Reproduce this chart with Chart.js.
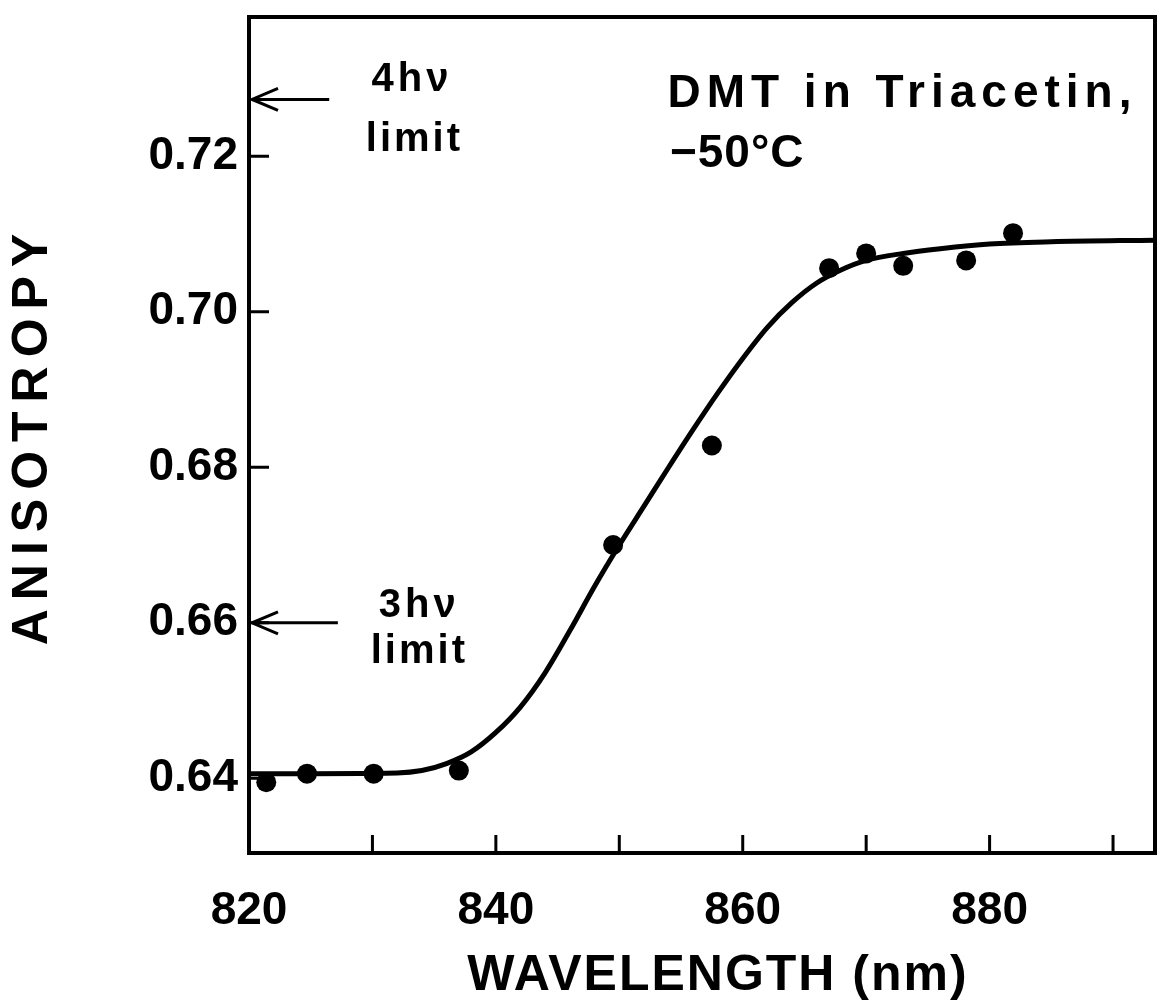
<!DOCTYPE html>
<html>
<head>
<meta charset="utf-8">
<script src="https://cdn.jsdelivr.net/npm/chart.js@4.4.1/dist/chart.umd.min.js"></script>
<style>
  html, body { margin: 0; padding: 0; background: #fff; overflow: hidden; }
  #wrap { width: 1157px; height: 1002px; position: relative; }
  canvas { display: block; }
</style>
</head>
<body>
<div id="wrap"><canvas id="myChart"></canvas></div>
<script>
// measured points
const wavelength = [821.4, 824.7, 830.1, 837.0, 849.5, 857.5, 867.0, 870.0, 873.0, 878.1, 881.9];
const anisotropy = [0.6395, 0.6406, 0.6406, 0.6410, 0.6700, 0.6828, 0.7056, 0.7075, 0.7059, 0.7066, 0.7101];

// fitted curve
const fitWavelength = [820, 832, 834, 836, 838, 840, 842, 844, 846, 848, 850, 852, 854, 856, 858,
  860, 862, 864, 866, 868, 870, 873, 876, 880, 885, 893.4];
const fitAnisotropy = [0.6406, 0.6407, 0.6410, 0.6419, 0.6434, 0.6459, 0.6492, 0.6536, 0.6590, 0.6647, 0.6700,
  0.6750, 0.6800, 0.6849, 0.6896, 0.6940, 0.6980, 0.7012, 0.7037, 0.7054, 0.7066, 0.7075, 0.7081, 0.7087,
  0.7090, 0.7092];

// axes
const xTicks = [820, 830, 840, 850, 860, 870, 880, 890];
const xLabels = [820, 840, 860, 880];
const yTicks = [0.64, 0.66, 0.68, 0.70, 0.72];

// multiphoton limits (arrows on the y axis)
const limitLevels = [0.7273, 0.66];
const limitArrowEnds = [826.5, 827.2];

const notes = [
  { text: '4h\u03bd', x: 833.2, y: 0.7298, size: 40, spacing: 4, align: 'center' },
  { text: 'limit', x: 833.4, y: 0.7221, size: 40, spacing: 3, align: 'center' },
  { text: '3h\u03bd', x: 833.8, y: 0.6622, size: 40, spacing: 4, align: 'center' },
  { text: 'limit', x: 833.8, y: 0.6562, size: 40, spacing: 3, align: 'center' },
  { text: 'DMT in Triacetin,', x: 853.9, y: 0.7279, size: 46, spacing: 6, align: 'left' },
  { text: '\u221250\u00b0C', x: 854.1, y: 0.7203, size: 46, spacing: 1, align: 'left' }
];

const FONT = "'Liberation Sans', Arial, sans-serif";

const noPad = s => {
  s.paddingTop = 0;
  s.paddingBottom = 0;
  s.paddingLeft = 0;
  s.paddingRight = 0;
};

const frame = {
  id: 'frame',
  afterDraw(chart) {
    const { ctx, chartArea: a, scales: { x, y } } = chart;
    ctx.save();
    ctx.strokeStyle = '#000';
    ctx.fillStyle = '#000';
    ctx.lineWidth = 4;
    ctx.strokeRect(a.left, a.top, a.right - a.left, a.bottom - a.top);

    // inward tick marks
    ctx.lineWidth = 3;
    ctx.beginPath();
    x.ticks.forEach(t => {
      const p = x.getPixelForValue(t.value);
      ctx.moveTo(p, a.bottom);
      ctx.lineTo(p, a.bottom - 18);
    });
    y.ticks.forEach(t => {
      const p = y.getPixelForValue(t.value);
      ctx.moveTo(a.left, p);
      ctx.lineTo(a.left + 20, p);
    });
    ctx.stroke();

    // limit arrows
    ctx.lineWidth = 3;
    limitLevels.forEach((lv, i) => {
      const py = y.getPixelForValue(lv);
      const tip = a.left + 3;
      const end = x.getPixelForValue(limitArrowEnds[i]);
      ctx.beginPath();
      ctx.moveTo(end, py);
      ctx.lineTo(tip, py);
      ctx.moveTo(tip + 26, py - 11);
      ctx.lineTo(tip, py);
      ctx.lineTo(tip + 26, py + 11);
      ctx.stroke();
    });

    // annotations
    ctx.textBaseline = 'middle';
    notes.forEach(n => {
      ctx.font = 'bold ' + n.size + 'px ' + FONT;
      ctx.letterSpacing = n.spacing + 'px';
      ctx.textAlign = n.align;
      ctx.fillText(n.text, x.getPixelForValue(n.x), y.getPixelForValue(n.y));
    });

    // axis titles
    ctx.font = 'bold 50px ' + FONT;
    ctx.textAlign = 'center';
    ctx.letterSpacing = '2px';
    ctx.fillText('WAVELENGTH (nm)', 718, 976);
    ctx.save();
    ctx.translate(33, 435);
    ctx.rotate(-Math.PI / 2);
    ctx.letterSpacing = '9px';
    ctx.fillText('ANISOTROPY', 0, 0);
    ctx.restore();
    ctx.restore();
  }
};

const points = wavelength.map((w, i) => ({ x: w, y: anisotropy[i] }));
const fit = fitWavelength.map((w, i) => ({ x: w, y: fitAnisotropy[i] }));

new Chart(document.getElementById('myChart'), {
  type: 'scatter',
  data: {
    datasets: [
      {
        label: 'measured',
        data: points,
        pointRadius: 10,
        pointBackgroundColor: '#000',
        pointBorderWidth: 0,
        showLine: false
      },
      {
        label: 'fit',
        data: fit,
        showLine: true,
        borderColor: '#000',
        borderWidth: 5,
        pointRadius: 0,
        cubicInterpolationMode: 'monotone',
        fill: false
      }
    ]
  },
  options: {
    responsive: true,
    maintainAspectRatio: false,
    animation: false,
    layout: { autoPadding: false, padding: { top: 17, right: 2, left: 0, bottom: 0 } },
    plugins: { legend: { display: false }, tooltip: { enabled: false } },
    scales: {
      x: {
        type: 'linear',
        min: 820,
        max: 893.4,
        afterBuildTicks: s => { s.ticks = xTicks.map(v => ({ value: v })); },
        afterFit: s => { s.height = 149; noPad(s); },
        grid: { display: false, drawTicks: false },
        border: { display: false },
        ticks: {
          autoSkip: false,
          maxRotation: 0,
          padding: 31,
          color: '#000',
          font: { family: FONT, size: 46, weight: 'bold' },
          callback: v => xLabels.includes(v) ? String(v) : ''
        }
      },
      y: {
        type: 'linear',
        min: 0.6304,
        max: 0.7379,
        afterBuildTicks: s => { s.ticks = yTicks.map(v => ({ value: v })); },
        afterFit: s => { s.width = 249; noPad(s); },
        grid: { display: false, drawTicks: false },
        border: { display: false },
        ticks: {
          autoSkip: false,
          padding: 11,
          color: '#000',
          font: { family: FONT, size: 46, weight: 'bold' },
          callback: v => v.toFixed(2)
        }
      }
    }
  },
  plugins: [frame]
});
</script>
</body>
</html>
